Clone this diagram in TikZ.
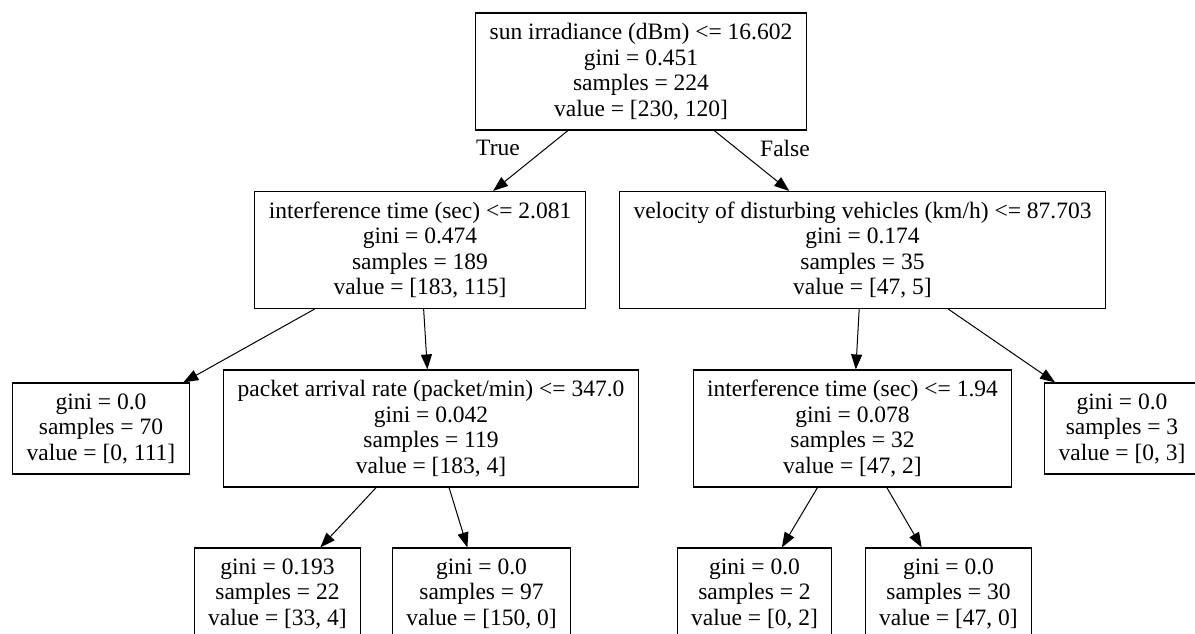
\documentclass[tikz,border=0pt]{standalone}
\usepackage{fontspec}
\setmainfont{Liberation Serif}
\usetikzlibrary{arrows.meta}
\newcommand{\treefont}{\fontsize{23.5}{25.5}\selectfont}

\begin{document}
\begin{tikzpicture}[x=1pt, y=-1pt, >={Triangle[length=15pt,width=11pt]},
    split/.style={draw, line width=1.1pt, align=center, inner xsep=14pt, minimum height=117pt, font=\treefont},
    leaf/.style={split, minimum height=91pt},
    edge/.style={->, line width=1pt}]
    % Page and background
    \path[use as bounding box, fill=white] (0,0) rectangle (1195,634);

    % Root split
    \node[split] (n0) at (641,71.5) {sun irradiance (dBm) <= 16.602\\ gini = 0.451\\ samples = 224\\ value = [230, 120]};

    % Second level
    \node[split] (n1) at (420,250) {interference time (sec) <= 2.081\\ gini = 0.474\\ samples = 189\\ value = [183, 115]};
    \node[split] (n6) at (862.5,250) {velocity of disturbing vehicles (km/h) <= 87.703\\ gini = 0.174\\ samples = 35\\ value = [47, 5]};

    % Third level
    \node[leaf] (n2) at (101,428.5) {gini = 0.0\\ samples = 70\\ value = [0, 111]};
    \node[split] (n3) at (431,428.5) {packet arrival rate (packet/min) <= 347.0\\ gini = 0.042\\ samples = 119\\ value = [183, 4]};
    \node[split] (n7) at (852.5,428.5) {interference time (sec) <= 1.94\\ gini = 0.078\\ samples = 32\\ value = [47, 2]};
    \node[leaf] (n10) at (1122,428.5) {gini = 0.0\\ samples = 3\\ value = [0, 3]};

    % Bottom leaves
    \node[leaf] (n4) at (277.5,593.5) {gini = 0.193\\ samples = 22\\ value = [33, 4]};
    \node[leaf] (n5) at (481.5,593.5) {gini = 0.0\\ samples = 97\\ value = [150, 0]};
    \node[leaf] (n8) at (754.5,593.5) {gini = 0.0\\ samples = 2\\ value = [0, 2]};
    \node[leaf] (n9) at (948.5,593.5) {gini = 0.0\\ samples = 30\\ value = [47, 0]};

    % Edges
    \draw[edge] (n0) -- (n1);
    \draw[edge] (n0) -- (n6);
    \draw[edge] (n1) -- (n2);
    \draw[edge] (n1) -- (n3);
    \draw[edge] (n3) -- (n4);
    \draw[edge] (n3) -- (n5);
    \draw[edge] (n6) -- (n7);
    \draw[edge] (n6) -- (n10);
    \draw[edge] (n7) -- (n8);
    \draw[edge] (n7) -- (n9);

    % Branch labels
    \node[font=\treefont] (ltrue) at (498,148) {True};
    \node[font=\treefont] (lfalse) at (785,148) {False};
\end{tikzpicture}
\end{document}
